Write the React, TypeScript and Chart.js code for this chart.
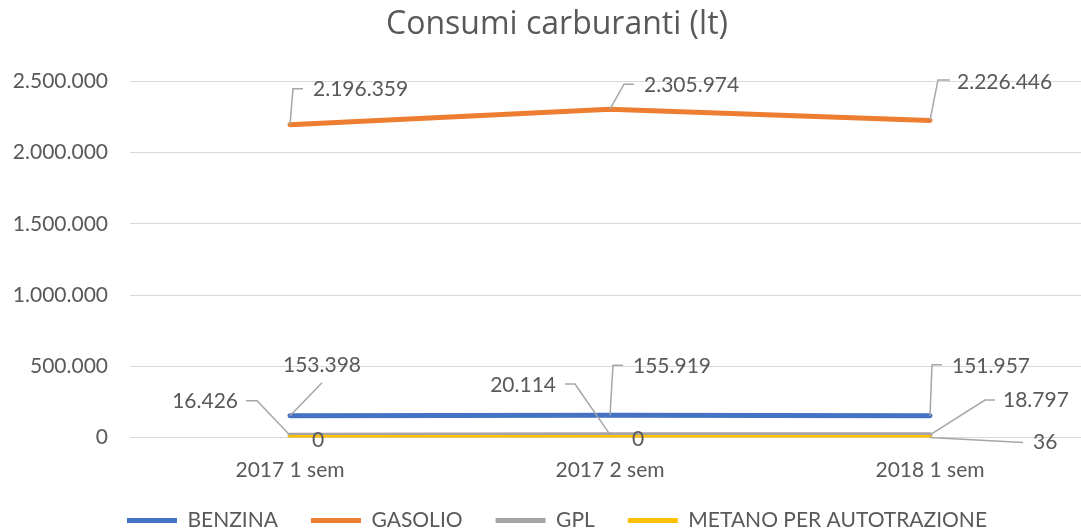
import React, { useEffect, useRef } from 'react';
import { Chart, registerables } from 'chart.js';

Chart.register(...registerables);

const chartTitle = 'Consumi carburanti (lt)';
const categories = ['2017 1 sem', '2017 2 sem', '2018 1 sem'];
const seriesNames = ['BENZINA', 'GASOLIO', 'GPL', 'METANO PER AUTOTRAZIONE'];
const benzina = [153398, 155919, 151957];
const gasolio = [2196359, 2305974, 2226446];
const gpl = [16426, 20114, 18797];
const metano = [0, 0, 36];
const yMin = 0;
const yMax = 2500000;
const yStep = 500000;

const seriesValues = [benzina, gasolio, gpl, metano];
const seriesColors = ['#4472C4', '#ED7D31', '#A5A5A5', '#FFC000'];
const textColor = '#595959';
const FONT = 'Lato';
const TITLE_FONT = 'Open Sans';

type Callout = { tx: number; ty: number; align: CanvasTextAlign; leader?: [number, number][] };

// label placement (pixel offsets from each point), like Excel callouts
const callouts: Callout[][] = [
  [
    { tx: 32, ty: -50, align: 'center', leader: [[32, -33]] },
    { tx: 23, ty: -49, align: 'left', leader: [[3, -50], [13, -50]] },
    { tx: 22, ty: -50, align: 'left', leader: [[2, -51], [12, -51]] },
  ],
  [
    { tx: 23, ty: -35.5, align: 'left', leader: [[3, -36], [13, -36]] },
    { tx: 34, ty: -24, align: 'left', leader: [[14, -25], [24, -25]] },
    { tx: 27, ty: -38.5, align: 'left', leader: [[8, -40.5], [20, -40.5]] },
  ],
  [
    { tx: -52, ty: -33.5, align: 'right', leader: [[-33, -34.5], [-44, -34.5]] },
    { tx: -54, ty: -49.6, align: 'right', leader: [[-35, -50.6], [-45, -50.6]] },
    { tx: 73, ty: -34.3, align: 'left', leader: [[55, -34.8], [65, -34.8]] },
  ],
  [
    { tx: 28, ty: 2.5, align: 'center' },
    { tx: 28, ty: 2, align: 'center' },
    { tx: 103, ty: 5, align: 'left', leader: [[93, 5]] },
  ],
];

const fmt = (v: number | string) =>
  String(Math.round(Number(v))).replace(/\B(?=(\d{3})+(?!\d))/g, '.');

const calloutPlugin = {
  id: 'callouts',
  afterDatasetsDraw(chart: any) {
    const ctx = chart.ctx as CanvasRenderingContext2D;
    ctx.save();
    ctx.font = `21px ${FONT}`;
    ctx.fillStyle = textColor;
    ctx.strokeStyle = '#A6A6A6';
    ctx.lineWidth = 1.5;
    ctx.textBaseline = 'middle';
    chart.data.datasets.forEach((ds: any, di: number) => {
      const meta = chart.getDatasetMeta(di);
      meta.data.forEach((pt: any, i: number) => {
        const c = callouts[di] && callouts[di][i];
        if (!c) return;
        const x = pt.x;
        const y = pt.y;
        if (c.leader) {
          ctx.beginPath();
          ctx.moveTo(x, y);
          c.leader.forEach(([dx, dy]) => ctx.lineTo(x + dx, y + dy));
          ctx.stroke();
        }
        ctx.textAlign = c.align;
        ctx.fillText(fmt(ds.data[i]), x + c.tx, y + c.ty);
      });
    });
    ctx.restore();
  },
};

export default function App() {
  const ref = useRef<HTMLCanvasElement | null>(null);

  useEffect(() => {
    if (!ref.current) return;
    Chart.defaults.font.family = FONT;
    const chart = new Chart(ref.current, {
      type: 'line',
      data: {
        labels: categories,
        datasets: seriesNames.map((name, i) => ({
          label: name,
          data: seriesValues[i],
          borderColor: seriesColors[i],
          backgroundColor: seriesColors[i],
          borderWidth: 5,
          borderCapStyle: 'round',
          borderJoinStyle: 'round',
          pointRadius: 0,
          pointHoverRadius: 0,
          tension: 0,
          order: seriesNames.length - 1 - i,
          yAxisID: 'y',
        })),
      },
      options: {
        responsive: false,
        animation: false,
        events: [],
        layout: { padding: { left: 12, right: 8, top: 0, bottom: 4 } },
        plugins: {
          title: {
            display: true,
            text: chartTitle,
            color: textColor,
            font: { family: TITLE_FONT, size: 32, weight: 'normal' },
            padding: { top: 5.8, bottom: 37.3 },
          },
          legend: {
            position: 'bottom',
            labels: {
              usePointStyle: true,
              pointStyle: 'line',
              pointStyleWidth: 50,
              boxWidth: 50,
              padding: 33,
              color: textColor,
              font: { family: FONT, size: 21 },
              sort: (a: any, b: any) => a.datasetIndex - b.datasetIndex,
            },
          },
          tooltip: { enabled: false },
        },
        scales: {
          x: {
            type: 'category',
            offset: true,
            grid: { display: false },
            border: { display: false },
            ticks: {
              color: textColor,
              font: { family: FONT, size: 21 },
              padding: 12,
              maxRotation: 0,
              autoSkip: false,
            },
            afterFit: (s: any) => {
              s.height = 39.5;
            },
          },
          y: {
            type: 'linear',
            min: yMin,
            max: yMax,
            ticks: {
              stepSize: yStep,
              color: textColor,
              font: { family: FONT, size: 21 },
              padding: 22,
              callback: (v: any) => fmt(v),
            },
            grid: { color: '#D9D9D9', lineWidth: 1, drawTicks: false },
            border: { display: false },
            afterFit: (s: any) => {
              s.width = 118;
            },
          },
          y2: {
            type: 'linear',
            position: 'right',
            display: true,
            grid: { display: false, drawTicks: false },
            border: { display: false },
            ticks: { display: false },
            afterFit: (s: any) => {
              s.width = 12;
            },
          },
        },
      } as any,
      plugins: [calloutPlugin],
    });
    return () => chart.destroy();
  }, []);

  return (
    <div
      style={{
        position: 'absolute',
        left: 0,
        top: 0,
        width: 1081,
        height: 532,
        overflow: 'hidden',
        background: '#ffffff',
      }}
    >
      <canvas ref={ref} width={1110} height={545} style={{ display: 'block' }} />
    </div>
  );
}
